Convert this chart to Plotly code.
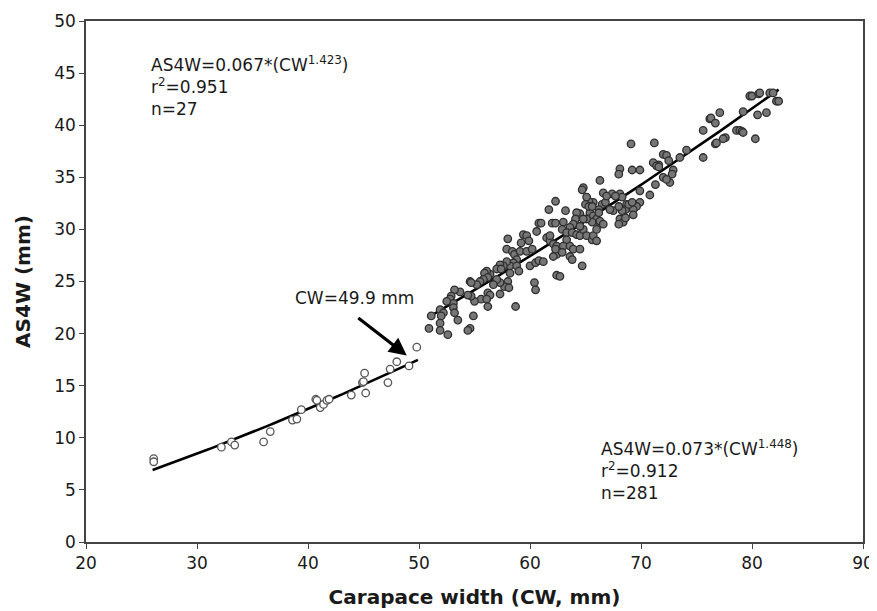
import plotly.graph_objects as go
import numpy as np

# Immature crabs (open circles)
imm_cw = [26.1, 26.1, 32.2, 33.1, 33.4, 36.0, 36.6, 38.6, 39.0, 39.4, 40.7, 40.8, 41.1, 41.4, 41.7,
          41.9, 43.9, 45.2, 44.9, 45.1, 47.2, 47.4, 48.0, 49.1, 49.8, 45.0]
imm_as4w = [8.0, 7.7, 9.1, 9.6, 9.3, 9.6, 10.6, 11.7, 11.8, 12.7, 13.7, 13.6, 12.9, 13.2, 13.6,
            13.7, 14.1, 14.3, 15.3, 16.2, 15.3, 16.6, 17.3, 16.9, 18.7, 15.4]

# Mature crabs (grey filled circles)
mat_cw = [
    58.0, 59.4, 59.7, 59.9, 59.2, 60.8, 61.0, 62.0, 62.3, 60.6, 61.5, 61.8, 62.1, 62.4,
    62.4, 62.1, 62.3, 57.9, 58.4, 58.6, 59.1, 59.7, 60.2, 60.0, 60.5, 60.8, 61.2, 58.8,
    58.5, 58.2, 57.9, 57.6, 57.3, 57.0, 57.4, 58.8, 59.0, 58.2, 58.0, 57.7, 58.1, 57.3,
    57.0, 56.4, 56.1, 55.9, 56.2, 55.8, 55.5, 55.2, 54.6, 54.7, 56.7, 56.2, 56.4, 55.6,
    56.1, 55.0, 54.7, 54.4, 53.7, 53.2, 52.9, 52.8, 53.1, 52.5, 51.9, 52.2, 51.1, 52.0,
    53.1, 53.2, 53.5, 54.9, 54.6, 54.4, 51.9, 50.9, 51.9, 52.6, 57.3, 56.2, 58.7, 60.4,
    60.5, 62.4, 61.8,
    69.1, 71.2, 72.0, 72.3, 72.5, 71.1, 71.6, 72.9, 72.8, 72.6, 72.0, 72.3, 69.2, 69.9,
    68.1, 68.0, 66.3, 64.8, 64.7, 66.6, 67.4, 68.1, 68.3, 69.9, 70.8, 71.3, 69.9, 69.6,
    69.3, 69.3, 68.7, 68.6, 68.3, 68.1, 68.4, 68.0, 67.5, 67.2, 66.5, 66.2, 65.7, 65.3,
    65.1, 65.0, 65.4, 65.7, 66.0, 66.3, 65.6, 65.1, 64.5, 64.2, 64.1, 63.9, 63.6, 63.2,
    63.0, 62.9, 63.3, 63.8, 64.2, 64.5, 64.8, 65.1, 65.6, 65.7, 66.0, 63.3, 63.0, 63.6,
    63.9, 64.5, 63.6, 63.8, 64.7, 62.9, 62.7,
    64.5, 64.8, 65.3, 65.6, 66.0, 66.2, 66.3, 66.6, 66.8, 66.9, 67.7, 68.0, 68.6, 68.9,
    69.2, 71.4, 71.6, 61.7, 62.3,
    74.1, 73.5, 75.6, 75.6, 76.2, 76.3, 76.7, 77.1, 76.7, 76.8, 77.6, 77.4, 78.6, 78.9,
    79.1, 79.2, 80.3, 79.2, 79.8, 80.0, 80.6, 80.7, 80.5, 81.3, 81.6, 81.9, 82.2, 82.4,
]
mat_as4w = [
    29.1, 29.5, 29.4, 28.9, 28.7, 30.6, 30.6, 30.6, 30.6, 29.8, 29.2, 28.9, 28.6, 28.4,
    27.6, 27.4, 28.1, 28.1, 27.9, 27.6, 27.9, 27.9, 28.1, 26.5, 26.8, 27.0, 26.9, 27.1,
    26.8, 26.5, 26.9, 26.5, 26.6, 26.2, 26.2, 26.5, 26.0, 25.8, 25.0, 24.5, 24.4, 24.9,
    25.2, 25.7, 26.0, 25.8, 25.4, 25.2, 25.0, 24.7, 25.0, 24.9, 24.7, 23.9, 23.7, 23.3,
    23.3, 23.1, 23.6, 23.7, 24.0, 24.2, 23.6, 23.3, 22.9, 23.1, 22.3, 22.0, 21.7, 21.7,
    22.5, 22.0, 21.3, 21.7, 20.5, 20.3, 21.0, 20.5, 20.3, 19.9, 23.8, 22.6, 22.6, 24.9,
    24.2, 25.6, 29.4,
    38.2, 38.3, 37.2, 37.1, 36.6, 36.4, 36.2, 35.7, 35.3, 34.5, 35.0, 34.8, 35.7, 35.7,
    35.8, 35.3, 34.7, 34.0, 33.8, 33.5, 33.4, 33.4, 33.1, 33.7, 33.3, 34.3, 32.6, 32.2,
    31.9, 31.4, 32.4, 31.9, 31.8, 31.0, 30.7, 30.5, 31.8, 31.9, 32.4, 31.9, 32.6, 32.7,
    33.1, 32.4, 31.6, 31.3, 31.0, 30.5, 30.7, 31.0, 31.5, 31.6, 31.0, 30.5, 30.2, 31.8,
    30.7, 30.0, 29.7, 29.7, 29.5, 29.4, 30.0, 29.4, 29.0, 29.4, 28.9, 29.0, 28.4, 28.4,
    28.1, 28.1, 27.4, 27.1, 26.5, 27.8, 25.5,
    30.3, 31.0, 32.2, 32.2, 30.0, 31.6, 30.8, 30.5, 32.6, 33.2, 33.2, 32.2, 31.1, 32.4,
    32.6, 36.1, 36.0, 31.9, 32.7,
    37.6, 36.9, 36.9, 39.5, 40.6, 40.7, 40.2, 41.2, 38.2, 38.3, 38.8, 38.7, 39.5, 39.5,
    39.4, 39.3, 38.7, 41.3, 42.8, 42.8, 43.0, 43.1, 41.0, 41.2, 43.1, 43.1, 42.3, 42.3,
]

# Power-law fits shown on the chart: AS4W = a * CW^b
imm_fit = {"a": 0.067, "b": 1.423, "range": [26.0, 49.9]}
mat_fit = {"a": 0.073, "b": 1.448, "range": [51.4, 82.4]}

x_ticks = [20, 30, 40, 50, 60, 70, 80, 90]
y_ticks = [0, 5, 10, 15, 20, 25, 30, 35, 40, 45, 50]

FONT = "DejaVu Sans, Liberation Sans, Arial, sans-serif"

fig = go.Figure()

for fit in (imm_fit, mat_fit):
    xs = np.linspace(fit["range"][0], fit["range"][1], 60)
    fig.add_trace(go.Scatter(x=xs, y=fit["a"] * xs ** fit["b"], mode="lines",
                             line=dict(color="black", width=2.6), hoverinfo="skip"))

fig.add_trace(go.Scatter(x=mat_cw, y=mat_as4w, mode="markers",
                         marker=dict(size=7.5, color="#767676",
                                     line=dict(color="#2e2e2e", width=1.3))))
fig.add_trace(go.Scatter(x=imm_cw, y=imm_as4w, mode="markers",
                         marker=dict(size=7.5, color="white",
                                     line=dict(color="#555555", width=1.3))))

font_txt = dict(family=FONT, size=17, color="#1a1a1a")

fig.add_annotation(x=25.75, y=47.0, xref="x", yref="y", xanchor="left", yanchor="top",
                   align="left", showarrow=False, font=font_txt, borderpad=0,
                   text="AS4W=0.067*(CW<sup>1.423</sup>)<br>r<sup>2</sup>=0.951<br>n=27")
fig.add_annotation(x=66.3, y=10.15, xref="x", yref="y", xanchor="left", yanchor="top",
                   align="left", showarrow=False, font=font_txt, borderpad=0,
                   text="AS4W=0.073*(CW<sup>1.448</sup>)<br>r<sup>2</sup>=0.912<br>n=281")
fig.add_annotation(x=44.2, y=23.4, xref="x", yref="y", showarrow=False, font=font_txt,
                   text="CW=49.9 mm")
fig.add_annotation(x=48.9, y=17.9, ax=44.4, ay=21.6, xref="x", yref="y",
                   axref="x", ayref="y", text="", showarrow=True,
                   arrowhead=2, arrowsize=1.1, arrowwidth=3.2, arrowcolor="black")

axis_common = dict(showgrid=False, zeroline=False, showline=True, linecolor="#444444",
                   linewidth=1.5, mirror=True, ticks="outside", ticklen=5,
                   tickcolor="#444444", tickwidth=1.2, automargin=False,
                   tickfont=dict(family=FONT, size=17, color="#1a1a1a"))

fig.update_xaxes(range=[20, 90], tickvals=x_ticks, **axis_common,
                 title=dict(text="<b>Carapace width (CW, mm)</b>", standoff=18,
                            font=dict(family=FONT, size=20, color="#1a1a1a")))
fig.update_yaxes(range=[0, 50], tickvals=y_ticks, **axis_common,
                 title=dict(text="<b>AS4W (mm)</b>", standoff=18,
                            font=dict(family=FONT, size=20, color="#1a1a1a")))

# the page places the figure 8 px in from the top-left corner
fig.update_layout(width=869, height=603, showlegend=False,
                  plot_bgcolor="white", paper_bgcolor="white",
                  margin=dict(l=78, r=14, t=13, b=69))

fig.write_html("out.html")
